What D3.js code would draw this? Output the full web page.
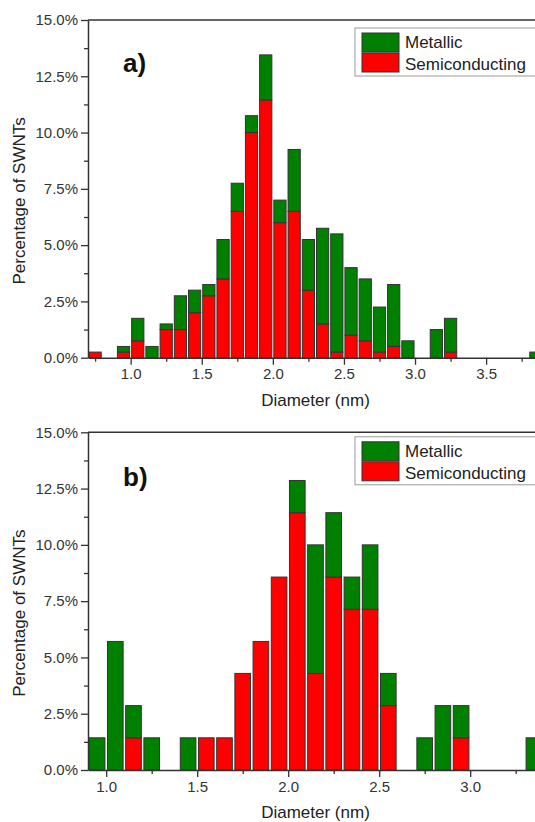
<!DOCTYPE html>
<html>
<head>
<meta charset="utf-8">
<script src="https://cdn.jsdelivr.net/npm/d3@7"></script>
<style>
  body { margin: 0; background: #fff; overflow: hidden; }
  svg { display: block; overflow: hidden; font-family: 'Liberation Sans', Arial, sans-serif; }
</style>
</head>
<body>
<svg width="535" height="822"></svg>
<script>
// panel a) bins (nm) and percentages
const aDiameter = [0.75, 0.95, 1.05, 1.15, 1.25, 1.35, 1.45, 1.55, 1.65, 1.75, 1.85, 1.95, 2.05,
                   2.15, 2.25, 2.35, 2.45, 2.55, 2.65, 2.75, 2.85, 2.95, 3.15, 3.25, 3.85];
const aSemi     = [0.25, 0.25, 0.75, 0, 1.25, 1.25, 2.0, 2.75, 3.5, 6.5, 10.0, 11.45, 6.0,
                   6.5, 3.0, 1.5, 0.25, 1.0, 0.75, 0.25, 0.5, 0, 0, 0.25, 0];
const aMetal    = [0, 0.25, 1.0, 0.5, 0.25, 1.5, 1.0, 0.5, 1.75, 1.25, 0.75, 2.0, 1.0,
                   2.75, 2.25, 4.25, 5.25, 3.0, 2.75, 2.0, 2.75, 0.75, 1.25, 1.5, 0.25];

// panel b)
const bDiameter = [0.95, 1.05, 1.15, 1.25, 1.45, 1.55, 1.65, 1.75, 1.85, 1.95, 2.05, 2.15,
                   2.25, 2.35, 2.45, 2.55, 2.75, 2.85, 2.95, 3.35];
const bSemi     = [0, 0, 1.43, 0, 0, 1.43, 1.43, 4.29, 5.71, 8.57, 11.43, 4.29,
                   8.57, 7.14, 7.14, 2.86, 0, 0, 1.43, 0];
const bMetal    = [1.43, 5.71, 1.43, 1.43, 1.43, 0, 0, 0, 0, 0, 1.43, 5.71,
                   2.86, 1.43, 2.86, 1.43, 1.43, 2.86, 1.43, 1.43];

const yTicks = [0, 2.5, 5, 7.5, 10, 12.5, 15];
const yMinor = [1.25, 3.75, 6.25, 8.75, 11.25, 13.75];
const aXTicks = [1.0, 1.5, 2.0, 2.5, 3.0, 3.5];
const aXMinor = [0.75, 1.25, 1.75, 2.25, 2.75, 3.25, 3.75];
const bXTicks = [1.0, 1.5, 2.0, 2.5, 3.0];
const bXMinor = [1.25, 1.75, 2.25, 2.75, 3.25];
const seriesNames = ['Semiconducting', 'Metallic'];
const colors = { Semiconducting: '#ff0000', Metallic: '#008000' };

const svg = d3.select('svg');
const width = +svg.attr('width');
const innerWidth = 455;
const innerHeight = 337.7;
const left = 88;

// the source figure is cropped on the right; clip marks at the page edge
svg.append('defs').append('clipPath').attr('id', 'page')
    .append('rect')
        .attr('x', -left).attr('y', -30)
        .attr('width', width).attr('height', innerHeight + 60);

const panel = cfg => {
    const g = svg.append('g')
        .attr('transform', `translate(${left},${cfg.top})`);
    const plot = g.append('g').attr('clip-path', 'url(#page)');

    const xScale = d3.scaleLinear().domain(cfg.domain).range([0, innerWidth]);
    const yScale = d3.scaleLinear().domain([0, 15]).range([innerHeight, 0]);

    const rows = cfg.diameter.map((d, i) => ({ d, Semiconducting: cfg.semi[i], Metallic: cfg.metal[i] }));
    const stacked = d3.stack().keys(seriesNames)(rows);
    const half = 0.043;

    plot.selectAll('g.series').data(stacked)
        .enter().append('g')
            .attr('class', 'series')
            .attr('fill', s => colors[s.key])
        .selectAll('rect').data(s => s.filter(p => p[1] - p[0] > 0))
        .enter().append('rect')
            .attr('x', p => xScale(p.data.d - half))
            .attr('width', p => xScale(p.data.d + half) - xScale(p.data.d - half))
            .attr('y', p => yScale(p[1]))
            .attr('height', p => yScale(p[0]) - yScale(p[1]))
            .attr('stroke', '#333')
            .attr('stroke-width', 1);

    // minor ticks, no labels
    g.append('g').call(d3.axisLeft(yScale).tickValues(yMinor).tickSize(4))
        .call(a => a.select('.domain').remove())
        .call(a => a.selectAll('text').remove());
    g.append('g').attr('transform', `translate(0,${innerHeight})`)
        .call(d3.axisBottom(xScale).tickValues(cfg.xMinor).tickSize(4))
        .call(a => a.select('.domain').remove())
        .call(a => a.selectAll('text').remove());

    g.append('g')
        .call(d3.axisLeft(yScale).tickValues(yTicks).tickSize(7).tickPadding(3).tickSizeOuter(0)
            .tickFormat(d => d3.format('.1f')(d) + '%'));
    plot.append('g').attr('transform', `translate(0,${innerHeight})`)
        .call(d3.axisBottom(xScale).tickValues(cfg.xTicks).tickSize(7).tickPadding(4).tickSizeOuter(0)
            .tickFormat(d3.format('.1f')));

    g.selectAll('.tick line').attr('stroke', '#333').attr('stroke-width', 1.3);
    g.selectAll('.domain').attr('stroke', '#333').attr('stroke-width', 1.5);
    g.selectAll('.tick text').attr('font-size', 15).attr('fill', '#333')
        .attr('font-family', "'Liberation Sans', Arial, sans-serif");

    // top frame line
    plot.append('line')
        .attr('x1', 0).attr('x2', innerWidth)
        .attr('y1', 0).attr('y2', 0)
        .attr('stroke', '#333').attr('stroke-width', 1.5);

    g.append('text')
        .attr('x', innerWidth / 2)
        .attr('y', innerHeight + 48)
        .attr('text-anchor', 'middle')
        .attr('font-size', 17)
        .attr('fill', '#222')
        .text('Diameter (nm)');

    g.append('text')
        .attr('transform', `translate(-63,${innerHeight / 2 + 12}) rotate(-90)`)
        .attr('text-anchor', 'middle')
        .attr('font-size', 17)
        .attr('fill', '#222')
        .text('Percentage of SWNTs');

    g.append('text')
        .attr('x', 35)
        .attr('y', cfg.labelY)
        .attr('font-size', 26)
        .attr('font-weight', 'bold')
        .attr('fill', '#111')
        .text(cfg.label);

    // legend (box runs past the right edge, as in the source figure)
    const lg = plot.append('g').attr('transform', `translate(267,${cfg.legendY})`);
    lg.append('rect')
        .attr('width', 200).attr('height', 48)
        .attr('fill', '#fff').attr('stroke', '#999').attr('stroke-width', 1);
    ['Metallic', 'Semiconducting'].forEach((k, i) => {
        lg.append('rect')
            .attr('x', 7).attr('y', 5 + i * 20)
            .attr('width', 37).attr('height', 19)
            .attr('fill', colors[k]).attr('stroke', '#333');
        lg.append('text')
            .attr('x', 50).attr('y', 20 + i * 22)
            .attr('font-size', 17)
            .attr('fill', '#222')
            .text(k);
    });
};

panel({ top: 20, domain: [0.7, 3.9], diameter: aDiameter, semi: aSemi, metal: aMetal,
        xTicks: aXTicks, xMinor: aXMinor, label: 'a)', labelY: 51.5, legendY: 8 });
panel({ top: 432.3, domain: [0.9, 3.4], diameter: bDiameter, semi: bSemi, metal: bMetal,
        xTicks: bXTicks, xMinor: bXMinor, label: 'b)', labelY: 53.7, legendY: 4.5 });
</script>
</body>
</html>
